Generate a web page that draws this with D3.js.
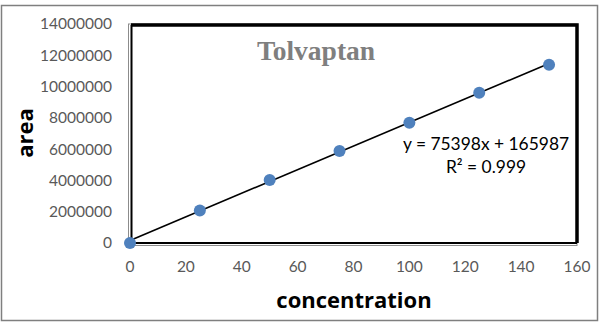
<!DOCTYPE html>
<html><head><meta charset="utf-8">
<script src="https://cdn.jsdelivr.net/npm/d3@7"></script>
<style>body{margin:0;background:#fff}svg{display:block}</style>
</head><body>
<script>
const concentration = [0, 25, 50, 75, 100, 125, 150];
const area = [0, 2080000, 4020000, 5880000, 7680000, 9600000, 11400000];
const xTicks = [0, 20, 40, 60, 80, 100, 120, 140, 160];
const yTicks = [0, 2000000, 4000000, 6000000, 8000000, 10000000, 12000000, 14000000];
const slope = 75398, intercept = 165987;
const titleText = "Tolvaptan";
const eqText = "y = 75398x + 165987";
const r2Text = "R² = 0.999";

const W = 602, H = 326;
const svg = d3.select("body").append("svg").attr("width", W).attr("height", H);
const x = d3.scaleLinear().domain([0, 160]).range([130, 577]);
const y = d3.scaleLinear().domain([0, 14000000]).range([243, 24]);

// outer border
svg.append("rect").attr("x", 1.5).attr("y", 5.5).attr("width", 596).attr("height", 315)
  .attr("fill", "none").attr("stroke", "#7f7f7f").attr("stroke-width", 1.5);

const x0 = x.range()[0], x1 = x.range()[1], y0 = y.range()[0], y1 = y.range()[1];
// plot frame
svg.append("rect").attr("x", x0 - 1.5).attr("y", y1).attr("width", x1 - x0 + 1.5).attr("height", y0 - y1 + 2.5)
  .attr("fill", "none").attr("stroke", "#8c8c8c").attr("stroke-width", 1);
svg.append("path").attr("d", `M${x0+1},${y1+1}H${x1}V${y0}`)
  .attr("fill", "none").attr("stroke", "#000").attr("stroke-width", 3.5);
svg.append("path").attr("d", `M${x0+1.5},${y1+1}V${y0}H${x1}`)
  .attr("fill", "none").attr("stroke", "#000").attr("stroke-width", 2);

const tickFont = "Lato, 'Open Sans', sans-serif";
const titleFont = "'Open Sans', Lato, sans-serif";
svg.append("g").selectAll("text").data(yTicks).join("text")
  .attr("x", 112).attr("y", d => y(d)).attr("dy", "0.35em")
  .attr("text-anchor", "end").attr("font-family", tickFont).attr("font-size", 15.5)
  .attr("fill", "#595959").text(d => d3.format("d")(d));
svg.append("g").selectAll("text").data(xTicks).join("text")
  .attr("x", d => x(d)).attr("y", 267).attr("dy", "0.35em")
  .attr("text-anchor", "middle").attr("font-family", tickFont).attr("font-size", 15.5)
  .attr("fill", "#595959").text(d => d);

// trend line
svg.append("line")
  .attr("x1", x(0)).attr("y1", y(intercept))
  .attr("x2", x(150)).attr("y2", y(slope * 150 + intercept))
  .attr("stroke", "#000").attr("stroke-width", 1.6);

// points
svg.append("g").selectAll("circle").data(concentration).join("circle")
  .attr("cx", d => x(d)).attr("cy", (d, i) => y(area[i])).attr("r", 6)
  .attr("fill", "#4f81bd");

// title
svg.append("text").attr("x", 316).attr("y", 60).attr("text-anchor", "middle")
  .attr("font-family", "'Liberation Serif', 'Times New Roman', serif").attr("font-weight", "bold")
  .attr("font-size", 27.5).attr("fill", "#7f7f7f").text(titleText);

// equation
svg.append("text").attr("x", 486).attr("y", 150).attr("text-anchor", "middle")
  .attr("font-family", tickFont).attr("font-size", 17.4).attr("fill", "#000").text(eqText);
svg.append("text").attr("x", 486).attr("y", 173).attr("text-anchor", "middle")
  .attr("font-family", tickFont).attr("font-size", 17.4).attr("fill", "#000").text(r2Text);

// axis titles
svg.append("text").attr("x", 354).attr("y", 308).attr("text-anchor", "middle")
  .attr("font-family", titleFont).attr("font-weight", "bold").attr("font-size", 22)
  .attr("fill", "#000").text("concentration");
svg.append("text").attr("transform", "translate(33,133) rotate(-90)").attr("text-anchor", "middle")
  .attr("font-family", titleFont).attr("font-weight", "bold").attr("font-size", 22)
  .attr("fill", "#000").text("area");
</script>
</body></html>
